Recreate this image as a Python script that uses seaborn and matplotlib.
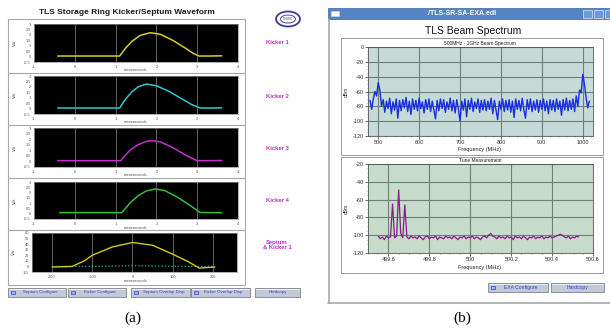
import numpy as np
import matplotlib
matplotlib.use("Agg")
import matplotlib.pyplot as plt
from matplotlib.patches import Rectangle, Ellipse
import seaborn as sns

# ---- data ----

# kicker waveforms (microseconds, kV)
k1_t = [-0.42, 1.1, 1.15, 1.25, 1.4, 1.6, 1.85, 2.1, 2.4, 2.7, 2.9, 3.05, 3.3, 3.6]
k1_v = [0.05, 0.05, 0.3, 0.8, 1.4, 1.95, 2.2, 2.05, 1.5, 0.8, 0.3, 0.05, 0.05, 0.07]
k2_t = [-0.42, 1.1, 1.15, 1.25, 1.4, 1.55, 1.76, 2.0, 2.3, 2.6, 2.85, 3.07, 3.3, 3.6]
k2_v = [0.05, 0.05, 0.35, 0.9, 1.55, 2.0, 2.26, 2.1, 1.6, 0.95, 0.4, 0.05, 0.05, 0.07]
k3_t = [-0.42, 1.13, 1.2, 1.35, 1.55, 1.75, 1.9, 2.1, 2.4, 2.7, 2.99, 3.3, 3.6]
k3_v = [0.07, 0.07, 0.4, 1.0, 1.5, 1.8, 1.86, 1.75, 1.25, 0.6, 0.07, 0.07, 0.08]
k4_t = [-0.37, 1.15, 1.22, 1.35, 1.55, 1.75, 1.97, 2.2, 2.5, 2.8, 3.07, 3.3, 3.6]
k4_v = [0.1, 0.1, 0.4, 1.0, 1.7, 2.15, 2.34, 2.2, 1.6, 0.85, 0.12, 0.1, 0.1]

# septum + kicker 1 overlap
sep_t = [-200, -150, -120, -100, -50, 0, 50, 100, 140, 166, 205]
sep_v = [-1, 0, 10, 20, 35, 43, 38, 22, 8, -3, -1]
sk_t = [-200, -100, -50, 0, 50, 100, 200]
sk_v = [0, 0, 0.5, 1.5, 0.8, 0.2, 0]

kicker_xticks = [-1, 0, 1, 2, 3, 4]
kicker_yticks = [-0.5, 0, 0.5, 1, 1.5, 2, 2.5, 3]
sep_xticks = [-200, -100, 0, 100, 200]
sep_yticks = [-10, 0, 10, 20, 30, 40, 50, 60]

# 500 MHz - 1 GHz beam spectrum, every 4 MHz from 480 MHz (dBm)
spec_start, spec_step = 480, 4
spec_db = [
    -72, -84, -70, -60, -66, -48, -58, -80, -71, -88, -73, -83, -69, -90, -74, -85,
    -70, -96, -72, -86, -71, -82, -68, -87, -73, -91, -70, -84, -72, -86, -69, -83,
    -74, -89, -71, -84, -70, -87, -73, -85, -97, -72, -86, -70, -83, -71, -88, -74,
    -84, -69, -86, -72, -89, -71, -84, -100, -73, -85, -70, -94, -72, -84, -69, -87,
    -74, -83, -70, -88, -72, -85, -71, -86, -73, -84, -69, -90, -72, -85, -98, -73,
    -84, -70, -87, -72, -85, -71, -88, -73, -95, -70, -84, -72, -86, -69, -85, -96,
    -71, -84, -70, -87, -73, -85, -71, -88, -72, -84, -70, -86, -73, -90, -71, -85,
    -72, -87, -70, -84, -73, -92, -71, -85, -69, -86, -72, -84, -70, -87, -66, -80,
    -58, -62, -37, -50, -68, -82, -73,
]

# tune measurement, every 0.01 MHz from 499.55 MHz (dBm)
tune_start, tune_step = 499.55, 0.01
tune_db = [
    -101, -104, -102, -105, -101, -103, -102, -65, -103, -101, -49, -98, -103, -66,
    -102, -104, -101, -103, -102, -104, -101, -103, -105, -102, -101, -104, -102, -103,
    -101, -105, -102, -103, -104, -101, -103, -102, -104, -101, -103, -105, -102, -103,
    -101, -104, -102, -103, -101, -104, -102, -103, -105, -102, -101, -103, -100, -98,
    -101, -102, -104, -101, -103, -102, -104, -101, -103, -102, -105, -101, -103, -102,
    -104, -101, -103, -105, -102, -103, -101, -104, -102, -103, -101, -104, -102, -103,
    -101, -103, -102, -101, -100, -99, -100, -102, -103, -101, -104, -102, -103, -101,
    -102,
]
spec_xticks = [500, 600, 700, 800, 900, 1000]
tune_xticks = [499.6, 499.8, 500.0, 500.2, 500.4, 500.6]
tune_xlabels = ["499.6", "499.8", "500", "500.2", "500.4", "500.6"]
db_yticks_top = [-120, -100, -80, -60, -40, -20, 0]
db_yticks_bot = [-120, -100, -80, -60, -40, -20]

spec_f = spec_start + spec_step * np.arange(len(spec_db))
tune_f = np.round(tune_start + tune_step * np.arange(len(tune_db)), 2)

# ---- figure setup ----
sns.set_theme(style="white")
plt.rcParams["font.family"] = ["Liberation Sans", "DejaVu Sans"]
plt.rcParams["axes.unicode_minus"] = False

W, H = 610, 332
fig = plt.figure(figsize=(W / 100, H / 100), dpi=100)
fig.patch.set_facecolor("white")


def rect(x0, y0, x1, y1):
    return [x0 / W, 1 - y1 / H, (x1 - x0) / W, (y1 - y0) / H]


bg = fig.add_axes([0, 0, 1, 1])
bg.set_xlim(0, W)
bg.set_ylim(H, 0)
bg.axis("off")


def button(x0, y0, x1, y1, label, icon=True, fs=3.2):
    bg.add_patch(Rectangle((x0, y0), x1 - x0, y1 - y0, facecolor="#c3c9d6",
                           edgecolor="#7d828c", lw=0.6))
    bg.plot([x0 + 0.6, x1 - 0.6], [y0 + 0.7, y0 + 0.7], color="white", lw=0.5)
    tx = (x0 + x1) / 2
    if icon:
        bg.add_patch(Rectangle((x0 + 3, (y0 + y1) / 2 - 2), 4, 3.5,
                               facecolor="#9fb3e0", edgecolor="#2848c8", lw=0.5))
        tx += 3
    bg.text(tx, (y0 + y1) / 2, label, ha="center", va="center",
            fontsize=fs, color="#2848c8")


# ---- panel (a) ----
bg.text(127, 13, "TLS Storage Ring Kicker/Septum Waveform", ha="center",
        va="center", fontsize=6, fontweight="bold", color="#1a1a1a")
bg.add_patch(Ellipse((288, 19), 24, 15, facecolor="none", edgecolor="#3b3b9c", lw=1.3))
bg.add_patch(Ellipse((288, 19), 15, 8, facecolor="none", edgecolor="#5a5ab4", lw=0.8))
bg.text(288, 19, "NSRRC", ha="center", va="center", fontsize=2, color="#3b3b9c")

bg.add_patch(Rectangle((8, 19), 237, 266, facecolor="none", edgecolor="#a8a8a8", lw=0.8))
for ysep in [73, 125, 178, 230]:
    bg.plot([8, 245], [ysep, ysep], color="#a8a8a8", lw=0.8)

for ylab, name in zip([43, 96, 149, 201], ["Kicker 1", "Kicker 2", "Kicker 3", "Kicker 4"]):
    bg.text(277, ylab, name, ha="center", va="center", fontsize=4.2,
            fontweight="bold", color="#c02cc8")
bg.text(277, 245, "Septum\n& Kicker 1", ha="center", va="center", fontsize=4.2,
        fontweight="bold", color="#c02cc8", linespacing=1.0)

kick_rows = [
    ((34, 24, 238, 62), k1_t, k1_v, "#d6cf22", 70),
    ((34, 76, 238, 114), k2_t, k2_v, "#33c6cf", 122),
    ((34, 128, 238, 167), k3_t, k3_v, "#c62fcc", 175),
    ((34, 182, 238, 219), k4_t, k4_v, "#33c033", 228),
]


def style_dark(ax, xlim, ylim, xticks, yticks):
    ax.set_facecolor("black")
    ax.set_xlim(*xlim)
    ax.set_ylim(*ylim)
    ax.set_xticks(xticks)
    ax.set_yticks(yticks)
    ax.set_xticklabels([f"{t:g}" for t in xticks])
    ax.set_yticklabels([f"{t:g}" for t in yticks])
    ax.set_xlabel("")
    ax.set_ylabel("")
    ax.grid(True, axis="x", color="#8a8a8a", lw=0.5)
    ax.tick_params(length=1.2, width=0.4, pad=1, labelsize=2.8, colors="#505050")
    for s in ax.spines.values():
        s.set_color("#909090")
        s.set_linewidth(0.5)


for box, tt, vv, col, ylab in kick_rows:
    ax = fig.add_axes(rect(*box))
    sns.lineplot(x=tt, y=vv, ax=ax, color=col, lw=1.1, legend=False)
    style_dark(ax, (-1, 4), (-0.5, 3), kicker_xticks, kicker_yticks)
    bg.text(136, ylab, "microseconds", ha="center", va="center", fontsize=2.8, color="#505050")
    bg.text(15, (box[1] + box[3]) / 2, "Volt", rotation=90, ha="center", va="center",
            fontsize=2.8, color="#505050")

ax5 = fig.add_axes(rect(32, 233, 237, 272))
sns.lineplot(x=sk_t, y=sk_v, ax=ax5, color="#22a9b2", lw=0.9, ls=":", legend=False)
sns.lineplot(x=sep_t, y=sep_v, ax=ax5, color="#cfcb22", lw=1.0, legend=False)
style_dark(ax5, (-250, 260), (-10, 60), sep_xticks, sep_yticks)
bg.text(136, 281, "microseconds", ha="center", va="center", fontsize=2.8, color="#505050")
bg.text(14, 252, "Volt", rotation=90, ha="center", va="center", fontsize=2.8, color="#505050")

button(8, 288, 66, 297, "Septum Configure")
button(68, 288, 126, 297, "Kicker Configure")
button(131, 288, 190, 297, "Septum Overlap Disp")
button(191, 288, 250, 297, "Kicker Overlap Disp")
button(255, 288, 300, 297, "Hardcopy", icon=False)

bg.text(133, 318, "(a)", ha="center", va="center", fontsize=11,
        family=["Liberation Serif", "DejaVu Serif"], color="black")

# ---- panel (b) ----
bg.add_patch(Rectangle((328, 8), 290, 11, facecolor="#5584c6", edgecolor="#3a64a4", lw=0.5))
bg.add_patch(Rectangle((331, 11), 8, 5, facecolor="white", edgecolor="#d0d8e8", lw=0.4))
bg.text(462, 13.5, "./TLS-SR-SA-EXA.edl", ha="center", va="center", fontsize=5,
        fontweight="bold", color="white")
for bx in [583, 594, 605]:
    bg.add_patch(Rectangle((bx, 10), 9, 7.5, facecolor="#6f9ad6", edgecolor="#dfe8f6", lw=0.5))
bg.plot([328.5, 328.5], [19, 303], color="#a9a9a9", lw=1.2)
bg.plot([328, 610], [303, 303], color="#a9a9a9", lw=1.2)

bg.text(473, 31, "TLS Beam Spectrum", ha="center", va="center", fontsize=7.5, color="#111111")
bg.add_patch(Rectangle((341, 38), 262, 117, facecolor="none", edgecolor="#9a9a9a", lw=0.7))
bg.add_patch(Rectangle((341, 157), 262, 116, facecolor="none", edgecolor="#9a9a9a", lw=0.7))


def style_light(ax, face, xlim, ylim, xticks, yticks, xlabels=None):
    ax.set_facecolor(face)
    ax.set_xlim(*xlim)
    ax.set_ylim(*ylim)
    ax.set_xticks(xticks)
    ax.set_yticks(yticks)
    if xlabels is not None:
        ax.set_xticklabels(xlabels)
    ax.set_xlabel("")
    ax.set_ylabel("")
    ax.minorticks_on()
    ax.grid(True, which="major", color="#6f7f7c", lw=0.8)
    ax.tick_params(which="major", direction="out", length=2, width=0.5, pad=1,
                   labelsize=4, colors="#333333", left=True, bottom=True)
    ax.tick_params(which="minor", direction="out", length=1, width=0.4,
                   left=True, bottom=True, colors="#555555")
    for s in ax.spines.values():
        s.set_color("#555555")
        s.set_linewidth(0.6)


ax_s = fig.add_axes(rect(368, 47, 593, 136))
sns.lineplot(x=spec_f, y=spec_db, ax=ax_s, color="#1a2ee0", lw=1.0, legend=False)
style_light(ax_s, "#c4dbd7", (475, 1025), (-120, 0), spec_xticks, db_yticks_top)
bg.text(480, 43, "500MHz - 1GHz Beam Spectrum", ha="center", va="center", fontsize=3.5, color="#222222")
bg.text(480, 150, "Frequency (MHz)", ha="center", va="center", fontsize=4, color="#222222")
bg.text(346, 92, "dBm", rotation=90, ha="center", va="center", fontsize=3.5, color="#222222")

ax_t = fig.add_axes(rect(368, 164, 593, 253))
sns.lineplot(x=tune_f, y=tune_db, ax=ax_t, color="#8c1c8c", lw=0.9, legend=False)
style_light(ax_t, "#c8dccb", (499.5, 500.6), (-120, -20), tune_xticks, db_yticks_bot, tune_xlabels)
bg.text(480, 161, "Tune Measurement", ha="center", va="center", fontsize=3.5, color="#222222")
bg.text(480, 267, "Frequency (MHz)", ha="center", va="center", fontsize=4, color="#222222")
bg.text(346, 209, "dBm", rotation=90, ha="center", va="center", fontsize=3.5, color="#222222")

button(488, 283, 548, 292, "EXA Configure", fs=3.6)
button(551, 283, 604, 292, "Hardcopy", icon=False, fs=3.6)

bg.text(462, 318, "(b)", ha="center", va="center", fontsize=11,
        family=["Liberation Serif", "DejaVu Serif"], color="black")

fig.savefig("out.png", dpi=100)
